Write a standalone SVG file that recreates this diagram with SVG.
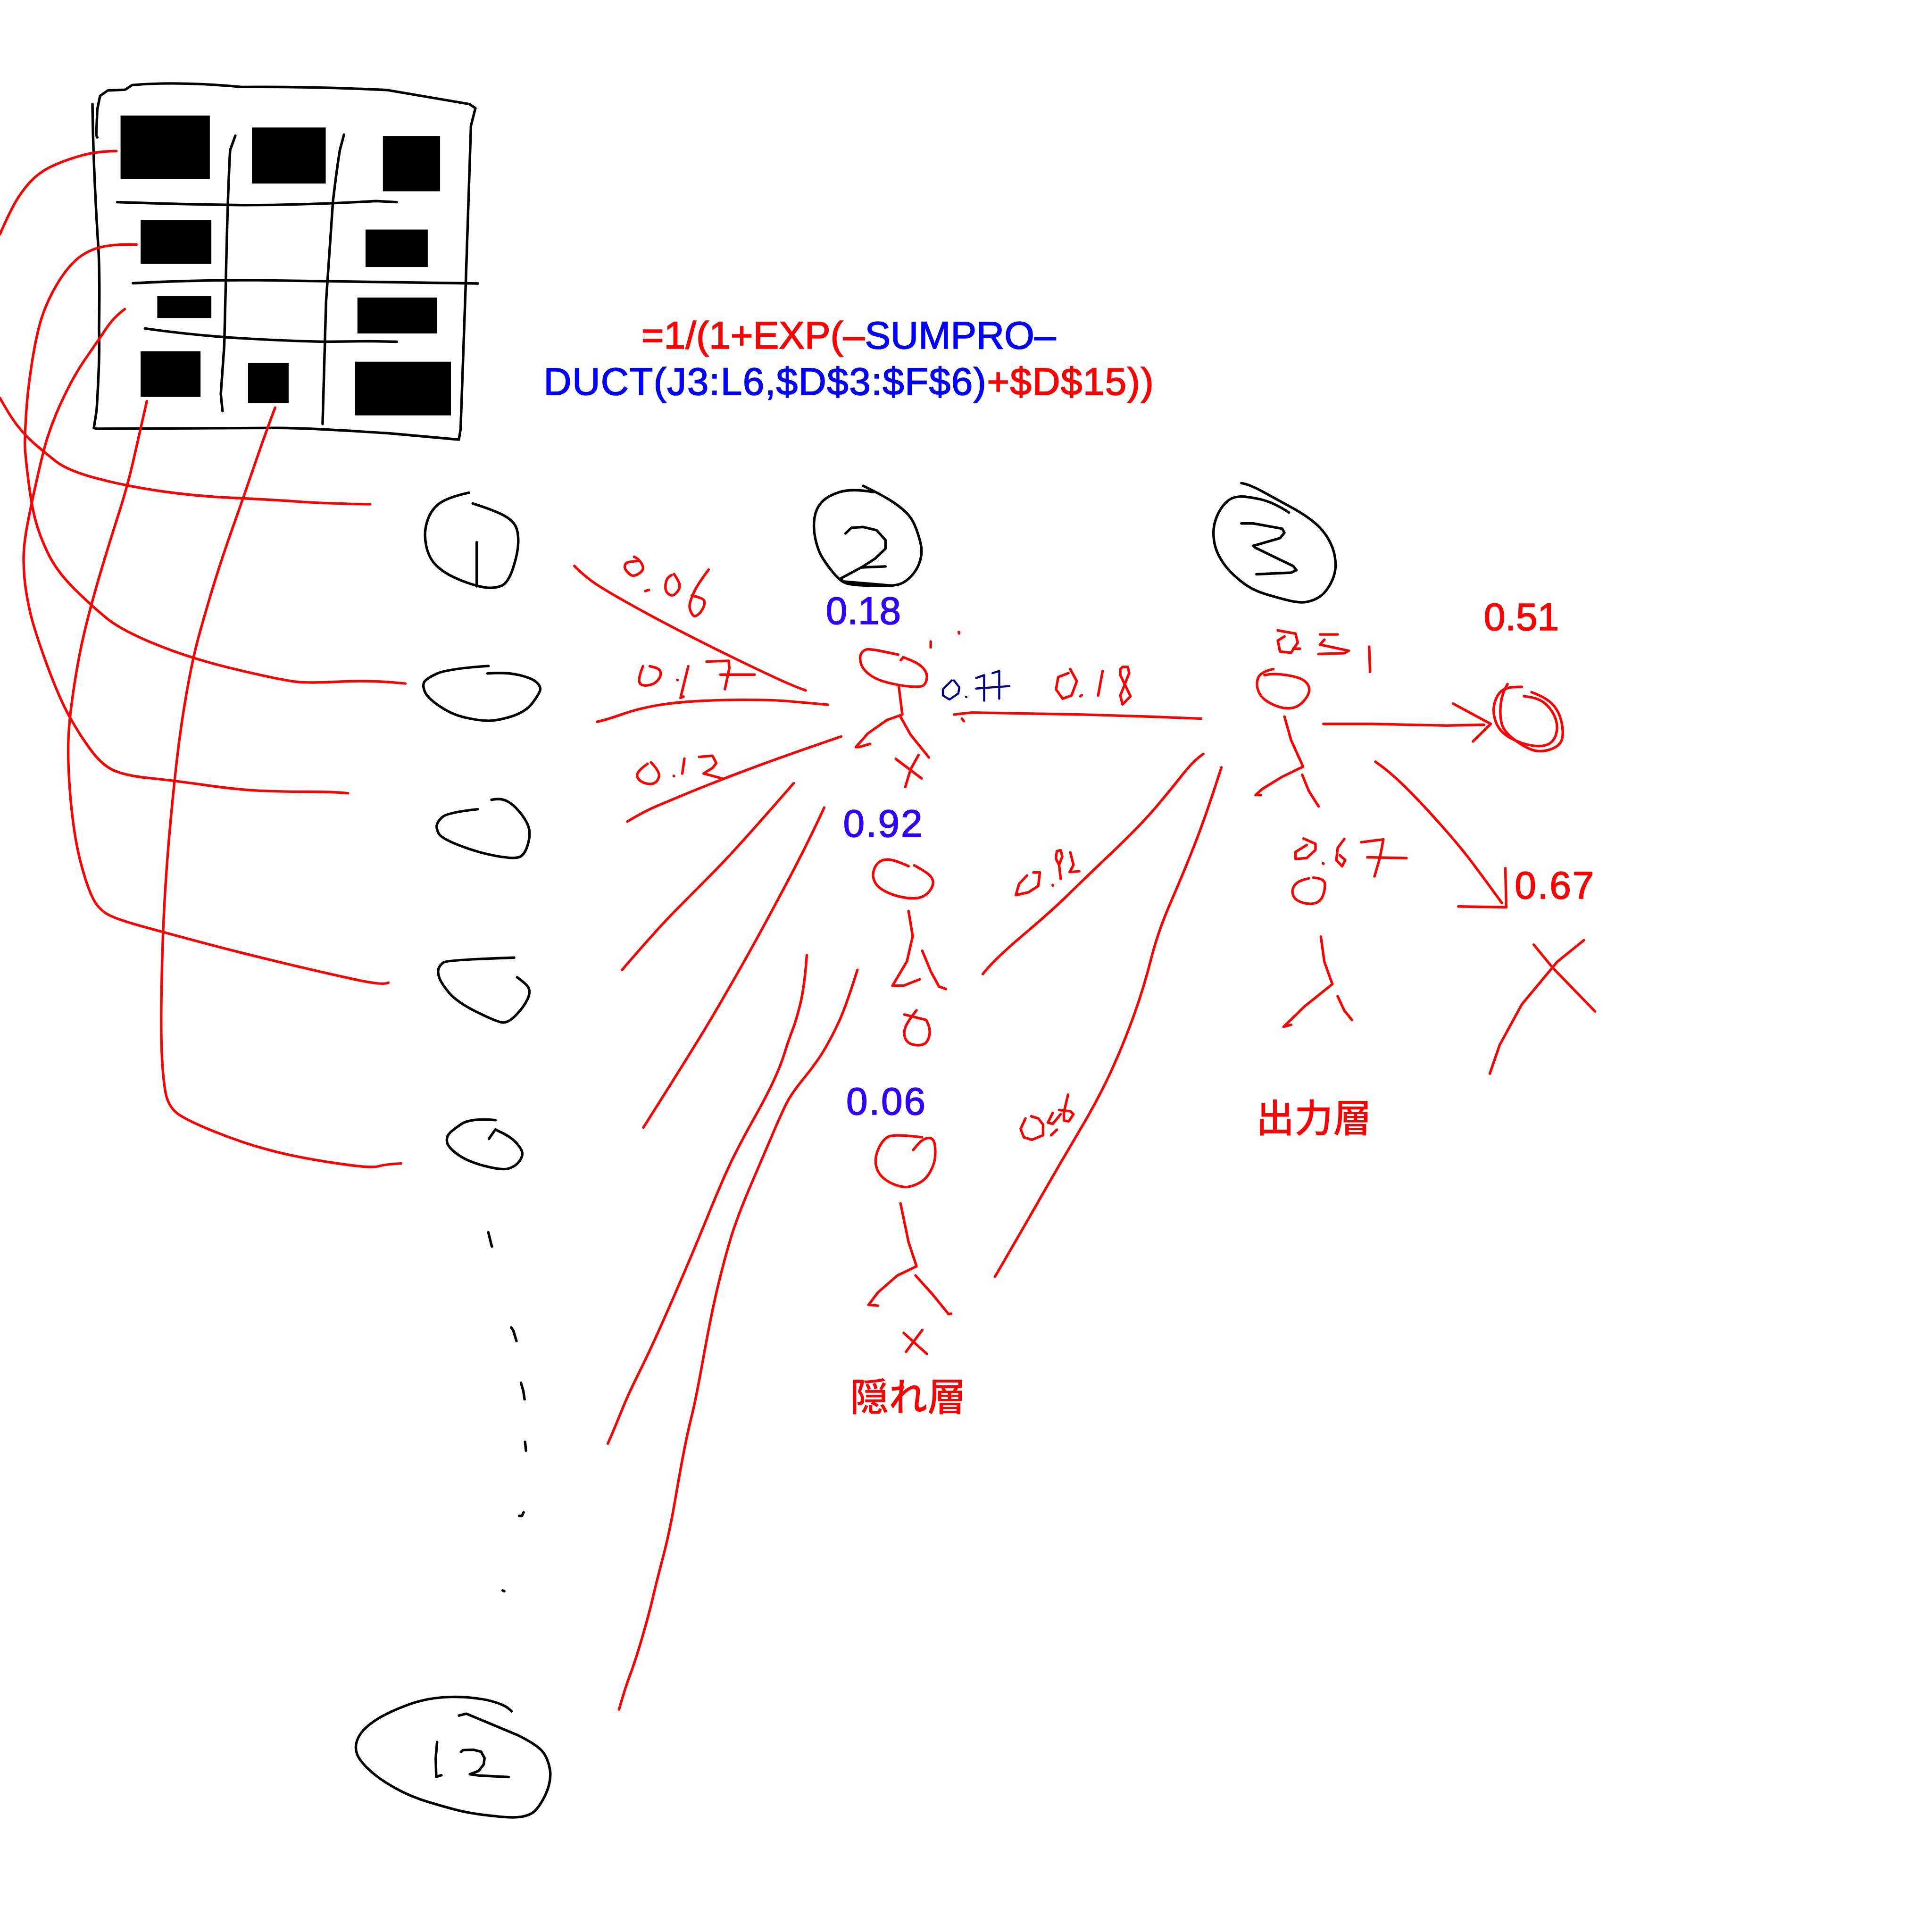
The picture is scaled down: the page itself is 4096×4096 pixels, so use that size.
<svg xmlns="http://www.w3.org/2000/svg" width="4096" height="4096" viewBox="0 0 4096 4096">
<style>
path{fill:none;stroke-linecap:round;stroke-linejoin:round;vector-effect:non-scaling-stroke;stroke-width:5.4}
.k path,path.k{stroke:#000}
.r path,path.r{stroke:#f00}
.n path,path.n{stroke:#00008b;stroke-width:4.4}
.t{font-family:"Liberation Sans",Arial,sans-serif;font-size:100px;stroke-width:2px}
.j{font-family:"Noto Sans CJK JP",sans-serif;font-size:100px;font-weight:500;fill:#f00}
.red{fill:#f00;stroke:#f00}.blue{fill:#00f;stroke:#00f}.ind{fill:#3000ff;stroke:#3000ff}
.w{letter-spacing:3.5px}
rect{fill:#000}
</style>
<rect width="4096" height="4096" style="fill:#fff"/>
<g transform="scale(.8192)">
<g id="sheet">
<rect x="312" y="299" width="231" height="164"/><rect x="652" y="330" width="191" height="145"/><rect x="991" y="352" width="148" height="143"/>
<rect x="364" y="570" width="183" height="113"/><rect x="946" y="594" width="161" height="97"/>
<rect x="407" y="766" width="140" height="57"/><rect x="925" y="770" width="206" height="93"/>
<rect x="364" y="909" width="155" height="118"/><rect x="642" y="939" width="105" height="104"/><rect x="919" y="936" width="248" height="139"/>
<g class="k" transform="translate(0,150) scale(.8929,.7015)">
<path d="M282 293 279 285 282 190 290 140 312 120 363 117 383 100 Q510 85 700 107 Q900 105 1120 118 L1360 170 1378 185 1365 250 1350 830 1335 1370 1330 1408 1130 1385 Q900 1365 800 1365 L280 1368 272 1365 280 1300 Q290 1100 287 1000 Q290 800 285 700 Q270 400 268 170"/>
<path d="M340 532 Q530 540 710 543 Q900 542 1090 528 L1150 532"/>
<path d="M385 831 Q560 818 750 820 L1385 832"/>
<path d="M420 998 Q530 1018 650 1030 Q800 1043 940 1047 L1070 1045 1150 1047"/>
<path d="M682 287 667 340 Q660 500 655 800 L650 1060 640 1240 645 1303"/>
<path d="M997 283 985 340 Q975 420 965 530 Q955 720 945 900 L935 1350"/>
</g>
</g>
<g id="connectors" class="r">
<path d="M301 391Q250 392 214.5 401.5T145.5 425T89.5 459.5T47 511.5T0 606"/>
<path d="M0 1030Q27 1079 47 1104T89.5 1148.5T143.5 1193T250.5 1238T415.5 1271T603 1288.5T771.5 1298T958 1305"/>
<path d="M353 633Q295 631 259 640T196.5 673T145.5 739T107.5 823.5T82.5 939.5T67.5 1072.5T64.5 1153.5T73 1240T91.5 1345.5T124.5 1432.5T193 1524.5T277.5 1601T407 1669T617.5 1734T772 1765T884 1764T1049 1769"/>
<path d="M323 800Q295 820 275 850T228 918.5T181 995.5T147 1067T122.5 1133.5T96.5 1236T72 1351.5T61.5 1429.5T63.5 1498T77.5 1582T121 1719T182 1858.5T238.5 1945.5T298.5 1995.5T389.5 2014T529.5 2031.5T666.5 2046T791 2049T901 2053"/>
<path d="M380 1038Q362 1118 346 1188T310.5 1319T270 1448.5T229.5 1591.5T198 1737.5T180.5 1863T177 1975T184 2082.5T196 2172.5T215.5 2256.5T240.5 2325T274 2363.5T358 2394.5T526 2440T736.5 2493T917.5 2534.5T1005 2543"/>
<path d="M712 1055Q688 1118 658 1205.5T601.5 1367.5T554 1510.5T515.5 1642.5T482 1798T455.5 1986T438 2163T426 2331T418.5 2536.5T418.5 2720T428 2825.5T463 2884.5T561 2931T701.5 2977.5T866.5 3010T978.5 3018.5T1038 3011"/>
<g transform="translate(1400,1200) scale(.7653,.6378)">
<path d="M113 415Q150 460 185 487.5T275 552.5T390 628.5T535 718.5T700 816T820 883.5T895 920"/>
<path d="M190 1047Q220 1040 275 1016.5T395 980T540 962.5T680 958T785 960T970 978"/>
<path d="M1015 1107Q800 1195 680 1250T500 1335T395 1387.5T292 1452"/>
</g>
<path d="M2054 2027Q1908 2195 1854 2249.5T1750 2354.5T1610 2510"/>
<path d="M2133 2090Q2090 2184 2028 2300.5T1924.5 2490.5T1841.5 2634.5T1665 2918"/>
<path d="M2088 2472Q2082 2553 2071.5 2596.5T2050.5 2667T2030 2726.5T2001 2799.5T1953 2891.5T1899.5 2992T1837.5 3133T1770 3295T1710 3432.5T1652.5 3555T1607 3655T1573 3736"/>
<path d="M2219 2510Q2190 2602 2173 2640T2135.5 2713T2082 2788.5T2036.5 2853.5T2003 2927T1945 3062.5T1891.5 3203.5T1858 3328.5T1820.5 3512.5T1790.5 3663T1771 3751T1747 3883.5T1715.5 4031.5T1688.5 4139T1661 4241T1630.5 4335T1602 4424"/>
<g transform="translate(2400,1200) scale(1.148,1.0523)">
<path d="M60 617 100 612 350 617 500 622 617 627"/>
<path d="M622 714Q600 730 575 765T515 845T415 957.5T315 1062.5T215 1160T125 1255"/>
<path d="M893 640 1000 640 1170 644 1255 642"/>
<path d="M1185 590 1270 640 1230 683"/>
<path d="M1010 733Q1040 755 1075 792.5T1155 885T1227.5 980T1295 1080"/>
<path d="M1197 1089 1305 1091 1303 995"/>
</g>
<path d="M3161 1986Q3123 2105 3094.5 2178.5T3031.5 2331T2979 2481.5T2936 2623.5T2878 2767T2795 2924T2695.5 3095T2575 3304"/>
</g>
<g id="input-1" class="k" transform="translate(800,1200) scale(.5102,1.2117)">
<path d="M810 62Q700 72 657.5 86T597.5 125T595 177.5T655 221.5T775 250T895 264.5T975 261T1035 222.5T1061 167.5T1046 132.5T985 110T830 85"/>
<path d="M850 168 850 262"/>
</g>
<g id="input-2" class="k" transform="translate(800,1200) scale(.5102,1.2117)">
<path d="M910 432Q700 438 645 449T582.5 467.5T587.5 487.5T660 517.5T785 541.5T900 549T1025 540T1135 510T1172.5 482.5T1152.5 466.5T1065 451.5T905 448"/>
</g>
<g id="input-3" class="k" transform="translate(800,1200) scale(.5102,1.2117)">
<path d="M855 738Q700 745 675 755T647.5 772.5T657.5 790T760 815T945 837.5T1067.5 840T1110 812.5T1112.5 775T1065 742.5T997.5 719.5T925 718"/>
</g>
<g id="input-4" class="k" transform="translate(800,1200) scale(.5102,1.2117)">
<path d="M1040 1055Q700 1060 682.5 1065T657.5 1077.5T660 1097.5T710 1130T850 1171T980 1193.5T1050 1177.5T1107.5 1144T1112.5 1119T1055 1097"/>
</g>
<g id="input-5" class="k" transform="translate(800,1200) scale(.5102,1.2117)">
<path d="M945 1402Q820 1397 770 1411T707.5 1432.5T700 1450T752.5 1475T890 1500T1015 1505T1066.5 1490T1081.5 1472.5T1055 1452.5T987.5 1431L945 1422 912 1442"/>
</g>
<g id="ellipsis" class="k">
<g transform="translate(850,3100) scale(.4464)">
<path d="M927 200 947 282"/><path d="M1060 752 1072 770 1090 830"/><path d="M1116 1072 1130 1120 1137 1168"/><path d="M1140 1415 1145 1465"/>
</g>
<path d="M1355 3914 1351 3923 1344 3923"/>
<path d="M1301 4116 1305 4118"/>
</g>
<g id="input-12" class="k" transform="translate(850,4250) scale(.4464,.3333)">
<path d="M1062 537Q1040 505 1010 487.5T942.5 456.5T842.5 433T712.5 425T580 442.5T440 496.5T310 576T217.5 663.5T166 762.5T165 865T224 975T327.5 1085T445 1172.5T577.5 1240T720 1295T855 1332.5T997.5 1355T1120 1355T1190 1317.5T1242.5 1225T1280 1100T1285 995T1267.5 910T1238.5 845T1188.5 790T1102.5 725L800 555 757 570"/>
<path d="M630 775 622 900 625 1045 655 1033"/>
<path d="M768 853 780 838 840 835 885 850 905 900 900 950 870 1000 820 1025 870 1035 1045 1047"/>
</g>
<g id="formula" class="t">
<text x="1660" y="902"><tspan class="red">=1/(1+EXP(–</tspan><tspan class="blue">SUMPRO–</tspan></text>
<text x="1407" y="1022" letter-spacing="1.7"><tspan class="blue">DUCT(J3:L6,$D$3:$F$6)</tspan><tspan class="red">+$D$15))</tspan></text>
</g>
<g id="hidden-label-2" class="k" transform="translate(1400,1200) scale(.7653,.6378)">
<path d="M1125 115Q1050 100 1010 115T950 155T925 220T927.5 302.5T947.5 372.5T985 437.5T1030 484T1120 495.5T1212.5 489T1255 452.5T1282.5 392.5T1285 330T1267.5 260T1232.5 195T1180 147.5T1090 90"/>
<path d="M1030 283 1050 260 1090 257 1135 270 1165 310 1165 345 1130 385 1085 420 1015 465 1020 478 1190 495"/>
<path d="M1085 421 1165 417"/>
</g>
<g id="hidden-1">
<text class="t ind" x="2137" y="1615">0.18</text>
<g class="r" transform="translate(1400,1200) scale(.7653,.6378)">
<path d="M1208 775Q1115 750 1102.5 753.5T1083.5 769.5T1081 806T1107.5 852.5T1170 887.5T1247.5 904T1294 899T1305 870T1293.5 831T1252.5 798.5L1225 785 1217 797"/>
<path d="M1210 903 1222 1018 1170 1040 1105 1095 1065 1150 1075 1150 1113 1137"/>
<path d="M1215 1025 1250 1100 1312 1192"/>
<path d="M1200 1198 1287 1277"/><path d="M1277 1182 1250 1240 1232 1312"/>
<path d="M1318 722 1318 745"/><path d="M1413 683 1414 689"/>
</g>
</g>
<g id="weights-1" class="r" transform="translate(1400,1200) scale(.7653,.6378)">
<path d="M315 378Q330 385 339 402.5T344 430T327.5 448.5T307.5 453.5T291 437.5T283.5 415T292.5 401T332 395"/><path d="M353 517 365 512"/>
<path d="M450 448Q468 480 469 492.5T462.5 517.5T447.5 533.5T431 528.5T421 505T424 475T442 452"/>
<path d="M567 430Q530 490 520 515T505 560T505 595T515 616T530 613.5T547.5 587.5T552.5 557.5T510 535"/>
<path d="M345 822Q332 860 332 877.5T343.5 898.5T370 897.5T395 879T405 852.5T397.5 833.5T368 822"/><path d="M461 877 462 878"/>
<path d="M498 822 472 950 482 945"/>
<path d="M560 803 635 800 637 830 622 915"/><path d="M607 856 722 856"/>
<path d="M360 1218Q335 1240 328.5 1252.5T328.5 1277.5T352.5 1296.5T382.5 1296.5T399 1270T372 1212"/><path d="M449 1267 450 1268"/>
<path d="M485 1197 478 1257"/>
<path d="M535 1190 580 1185 593 1215 580 1235 550 1257 612 1277"/>
</g>
<g id="hidden-2">
<text class="t ind w" x="2182" y="2165">0.92</text>
<g class="r" transform="translate(1800,2000) scale(.829,1.0842)">
<path d="M665 223Q620 207 600 207T569 216T555 237.5T561 262.5T597.5 285T657.5 298.5T707.5 296T735 277.5T740 255T717.5 236.5T683 221"/>
<path d="M665 330 678 390 660 450 615 508 650 508 700 493"/>
<path d="M708 425 735 475 760 510 782 516"/>
<path d="M652 577 720 590Q735 610 730 627.5T710 648.5T677.5 648.5T654 632.5T656.5 605T690 567"/>
</g>
</g>
<g id="hidden-3">
<text class="t ind w" x="2190" y="2884">0.06</text>
<g class="r" transform="translate(1800,2000) scale(.829,1.0842)">
<path d="M707 870Q620 862 602.5 868.5T572.5 895T562.5 932.5T580 962.5T620 982.5T662.5 988.5T700 978.5T732.5 952.5T747.5 920T747.5 890T735 872.5T712.5 875T680 900"/>
<path d="M640 1028 665 1120 690 1178 630 1200 570 1240 540 1270 570 1272"/>
<path d="M687 1200 740 1245 790 1292 798 1291"/>
<path d="M650 1337 722 1387"/><path d="M708 1330 657 1382"/>
</g>
</g>
<text id="hidden-layer" class="j" x="2200" y="3651">隠れ層</text>
<g id="layer-3" class="k" transform="translate(2400,1200) scale(1.148,1.0523)">
<path d="M708 48Q725 50 762.5 72.5T825 110T870 142.5T902.5 182.5T918.5 227.5T918.5 267.5T905 302.5T882.5 328.5T855 340T815 336.5T760 320T705 287.5T667.5 245T650 207.5T645 170T652.5 130T672.5 96T702.5 81T750 87.5T815 120"/>
<path d="M708 147 735 147 800 160 805 170 795 183 735 202 740 207 825 252 832 262 820 268 742 272"/>
</g>
<g id="weight-077" class="n" transform="translate(2400,1200) scale(1.148,1.0523)">
<path d="M55 533 35 555 35 570 50 580 70 565 72 550 60 533"/><path d="M87 573 88 574"/>
<path d="M110 527 128 520 128 583"/><path d="M147 515 162 510 162 578"/><path d="M110 553 185 547"/>
</g>
<g id="output-1" class="r" transform="translate(2400,1200) scale(1.148,1.0523)">
<path d="M78 627 82 633"/>
<path d="M318 515 295 525 290 555 305 578 325 570 337 535 322 505"/><path d="M345 572 348 569"/>
<path d="M395 510 385 570"/>
<path d="M440 500 452 500 455 515 435 570 440 592 458 572 435 520 435 505 440 500"/>
<path d="M790 410 830 418 835 440 820 465 795 462 790 435 805 425"/><path d="M825 455 840 455"/>
<path d="M885 420 925 420"/><path d="M895 433 885 445 950 460 940 466 882 468"/>
<path d="M996 450 998 512"/>
<path d="M780 505Q750 512 745 528.5T747.5 562.5T777.5 591.5T817.5 601.5T847.5 585T861 557.5T851 535T810 520T760 520"/>
<path d="M805 622 820 680 847 745 800 770 755 800 740 815 752 815"/>
<path d="M845 765 860 805 882 843"/>
</g>
<g id="weights-2" class="r" transform="translate(1800,2000) scale(.829,1.0842)">
<path d="M1035 245 1010 265 1000 292 1040 285 1070 270 1075 238 1055 238"/><path d="M1115 268 1116 269"/>
<path d="M1140 253 1135 220 1125 205 1128 187 1140 185 1145 200 1135 220"/>
<path d="M1170 190 1180 220 1168 237 1198 235"/>
<path d="M1030 825 1015 850 1025 870 1050 876 1085 865 1085 840 1070 825 1048 820"/><path d="M1110 865 1128 852"/>
<path d="M1115 812 1100 835 1115 838 1140 815"/>
<path d="M1163 768 1150 810 1150 830 1165 832 1180 815 1170 808 1135 805"/>
</g>
<g id="output-2" class="r" transform="translate(2400,1200) scale(1.148,1.0523)">
<path d="M848 922 875 935 875 950 855 970 830 972 830 955 855 938"/><path d="M892 983 893 984"/>
<path d="M940 923 925 945 922 975 935 990 942 975 930 963"/>
<path d="M978 931 1028 924 1020 970 1008 1015"/><path d="M992 968 1080 970"/>
<path d="M860 1020Q835 1025 827.5 1037.5T825 1062.5T847.5 1080T876.5 1080T892.5 1060T896 1032.5T870 1018"/>
<path d="M887 1163 895 1225 913 1280 850 1335 803 1385 820 1380"/>
<path d="M925 1310 940 1345 957 1368"/>
</g>
<text id="output-layer" class="j" x="3250" y="2930">出力層</text>
<g id="result-051">
<text class="t red" x="3840" y="1631">0.51</text>
<g class="r" transform="translate(2400,1200) scale(1.148,1.0523)">
<path d="M1340 549Q1310 548 1297.5 556.5T1279 587.5T1281.5 635T1315 675T1365 693.5T1402.5 688.5T1418.5 660T1413.5 620T1390 587.5T1345 572"/>
<path d="M1308 542Q1295 565 1292.5 592.5T1295 640T1325 680T1367.5 705T1405 702.5T1430 680T1430 637.5T1410 592.5T1362 562"/>
</g>
</g>
<g id="result-067">
<text class="t red w" x="3920" y="2326">0.67</text>
<g class="r" transform="translate(2400,1200) scale(1.148,1.0523)">
<path d="M1367 1183 1410 1240 1505 1347"/>
<path d="M1480 1172 1420 1225 1340 1330 1290 1430 1268 1500"/>
</g>
</g>
</g>
</svg>
